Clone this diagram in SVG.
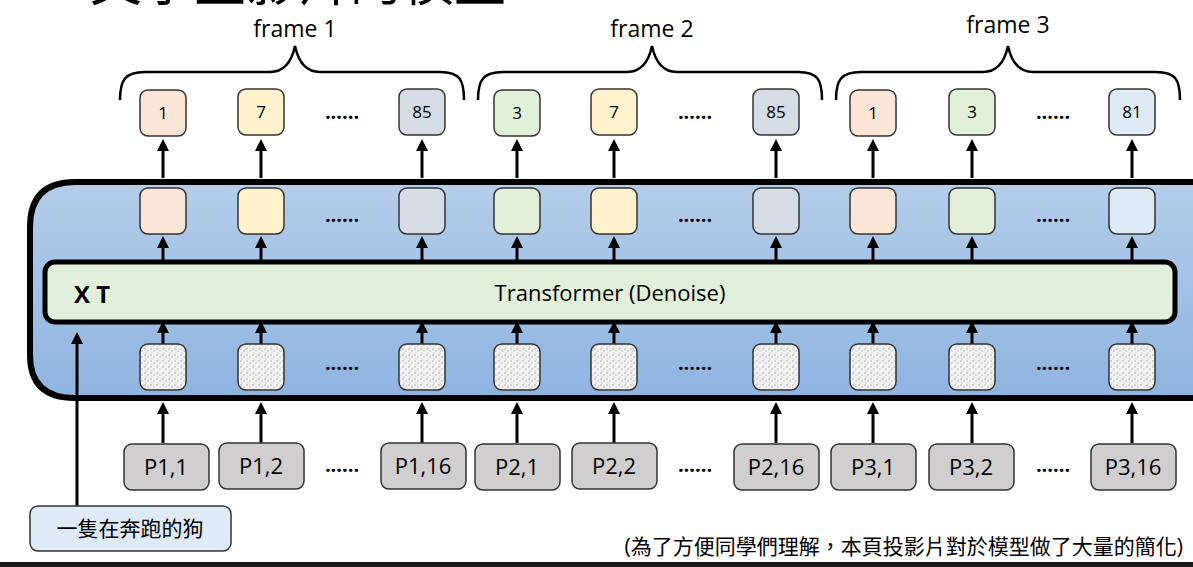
<svg xmlns="http://www.w3.org/2000/svg" width="1193" height="567" viewBox="0 0 1193 567">
<defs>
<linearGradient id="bg" x1="0" y1="0" x2="0" y2="1"><stop offset="0" stop-color="#b4cdea"/><stop offset="1" stop-color="#8fb4e0"/></linearGradient>
<pattern id="noise" width="6" height="6" patternUnits="userSpaceOnUse"><rect width="6" height="6" fill="#f2f2f2"/><circle cx="1" cy="1" r="0.7" fill="#999"/><circle cx="4" cy="3" r="0.7" fill="#aaa"/><circle cx="2" cy="5" r="0.6" fill="#bbb"/></pattern>
<marker id="ah" markerWidth="4" markerHeight="4" refX="2" refY="2" orient="auto" markerUnits="strokeWidth"><path d="M0,0 L4,2 L0,4 z" fill="#000"/></marker>
</defs>
<style>
text{font-family:"Open Sans","Noto Sans","Noto Sans CJK TC",sans-serif;fill:#000}
.b{stroke:#333;stroke-width:1.5}
.t{font-size:17px;text-anchor:middle}
.p{font-size:22px;text-anchor:middle}
.d{font-size:20px;font-weight:bold;text-anchor:middle}
.a{stroke:#000;stroke-width:3;fill:none;marker-end:url(#ah)}
.br{stroke:#000;stroke-width:2.5;fill:none}
</style>
<text x="90" y="1" font-size="52" font-family="Noto Sans CJK TC,sans-serif">文字生影片的模型</text>
<text x="295" y="37" font-size="23" text-anchor="middle">frame 1</text>
<text x="652" y="37" font-size="23" text-anchor="middle">frame 2</text>
<text x="1008" y="33" font-size="23" text-anchor="middle">frame 3</text>
<path class="br" d="M120,100 C120,80 125,72 145,72 L270,72 C285,72 292,60 295,46 C298,60 305,72 320,72 L440,72 C460,72 464,80 464,100"/>
<path class="br" d="M478,100 C478,80 483,72 503,72 L627,72 C642,72 649,60 652,46 C655,60 662,72 677,72 L798,72 C818,72 822,80 822,100"/>
<path class="br" d="M836,100 C836,80 841,72 861,72 L983,72 C998,72 1005,60 1008,46 C1011,60 1018,72 1033,72 L1156,72 C1176,72 1180,80 1180,100"/>
<path d="M1196,182 L75,182 Q30,182 30,227 L30,355 Q30,398 75,398 L1196,398" fill="url(#bg)" stroke="#000" stroke-width="6"/>
<g id="connectors">
<path class="a" d="M77,506 L77,338"/>
<g><path class="a" d="M163,178 L163,145"/><path class="a" d="M163,262 L163,242"/><path class="a" d="M163,344 L163,327"/><path class="a" d="M163,443 L163,408"/></g>
<g><path class="a" d="M261,178 L261,145"/><path class="a" d="M261,262 L261,242"/><path class="a" d="M261,344 L261,327"/><path class="a" d="M261,443 L261,408"/></g>
<g><path class="a" d="M422,178 L422,145"/><path class="a" d="M422,262 L422,242"/><path class="a" d="M422,344 L422,327"/><path class="a" d="M422,443 L422,408"/></g>
<g><path class="a" d="M517,178 L517,145"/><path class="a" d="M517,262 L517,242"/><path class="a" d="M517,344 L517,327"/><path class="a" d="M517,443 L517,408"/></g>
<g><path class="a" d="M614,178 L614,145"/><path class="a" d="M614,262 L614,242"/><path class="a" d="M614,344 L614,327"/><path class="a" d="M614,443 L614,408"/></g>
<g><path class="a" d="M776,178 L776,145"/><path class="a" d="M776,262 L776,242"/><path class="a" d="M776,344 L776,327"/><path class="a" d="M776,443 L776,408"/></g>
<g><path class="a" d="M873,178 L873,145"/><path class="a" d="M873,262 L873,242"/><path class="a" d="M873,344 L873,327"/><path class="a" d="M873,443 L873,408"/></g>
<g><path class="a" d="M972,178 L972,145"/><path class="a" d="M972,262 L972,242"/><path class="a" d="M972,344 L972,327"/><path class="a" d="M972,443 L972,408"/></g>
<g><path class="a" d="M1132,178 L1132,145"/><path class="a" d="M1132,262 L1132,242"/><path class="a" d="M1132,344 L1132,327"/><path class="a" d="M1132,443 L1132,408"/></g>
</g>
<g id="outputs">
<rect class="b" x="140" y="90" width="46" height="46" rx="8" fill="#fbe5d6"/><text class="t" x="163" y="119">1</text>
<rect class="b" x="238" y="89" width="46" height="46" rx="8" fill="#fff2cc"/><text class="t" x="261" y="118">7</text>
<rect class="b" x="399" y="89" width="46" height="46" rx="8" fill="#d6dce5"/><text class="t" x="422" y="118">85</text>
<rect class="b" x="494" y="90" width="46" height="46" rx="8" fill="#e2f0d9"/><text class="t" x="517" y="119">3</text>
<rect class="b" x="591" y="89" width="46" height="46" rx="8" fill="#fff2cc"/><text class="t" x="614" y="118">7</text>
<rect class="b" x="753" y="89" width="46" height="46" rx="8" fill="#d6dce5"/><text class="t" x="776" y="118">85</text>
<rect class="b" x="850" y="90" width="46" height="46" rx="8" fill="#fbe5d6"/><text class="t" x="873" y="119">1</text>
<rect class="b" x="949" y="89" width="46" height="46" rx="8" fill="#e2f0d9"/><text class="t" x="972" y="118">3</text>
<rect class="b" x="1109" y="89" width="46" height="46" rx="8" fill="#deebf7"/><text class="t" x="1132" y="118">81</text>
<text class="d" x="342" y="119">......</text><text class="d" x="695" y="119">......</text><text class="d" x="1053" y="119">......</text>
</g>
<g id="latents">
<rect class="b" x="140" y="188" width="46" height="46" rx="8" fill="#fbe5d6"/>
<rect class="b" x="238" y="188" width="46" height="46" rx="8" fill="#fff2cc"/>
<rect class="b" x="399" y="188" width="46" height="46" rx="8" fill="#d6dce5"/>
<rect class="b" x="494" y="188" width="46" height="46" rx="8" fill="#e2f0d9"/>
<rect class="b" x="591" y="188" width="46" height="46" rx="8" fill="#fff2cc"/>
<rect class="b" x="753" y="188" width="46" height="46" rx="8" fill="#d6dce5"/>
<rect class="b" x="850" y="188" width="46" height="46" rx="8" fill="#fbe5d6"/>
<rect class="b" x="949" y="188" width="46" height="46" rx="8" fill="#e2f0d9"/>
<rect class="b" x="1109" y="188" width="46" height="46" rx="8" fill="#deebf7"/>
<text class="d" x="342" y="222">......</text><text class="d" x="695" y="222">......</text><text class="d" x="1053" y="222">......</text>
</g>
<g id="transformer">
<rect x="45" y="262" width="1130" height="60" rx="10" fill="#e2efda" stroke="#000" stroke-width="5"/>
<text x="74" y="303" font-size="24" font-weight="bold">X T</text>
<text x="610" y="301" font-size="22" text-anchor="middle">Transformer (Denoise)</text>
</g>
<g id="noises">
<rect class="b" x="140" y="344" width="46" height="46" rx="8" fill="url(#noise)"/>
<rect class="b" x="238" y="344" width="46" height="46" rx="8" fill="url(#noise)"/>
<rect class="b" x="399" y="344" width="46" height="46" rx="8" fill="url(#noise)"/>
<rect class="b" x="494" y="344" width="46" height="46" rx="8" fill="url(#noise)"/>
<rect class="b" x="591" y="344" width="46" height="46" rx="8" fill="url(#noise)"/>
<rect class="b" x="753" y="344" width="46" height="46" rx="8" fill="url(#noise)"/>
<rect class="b" x="850" y="344" width="46" height="46" rx="8" fill="url(#noise)"/>
<rect class="b" x="949" y="344" width="46" height="46" rx="8" fill="url(#noise)"/>
<rect class="b" x="1109" y="344" width="46" height="46" rx="8" fill="url(#noise)"/>
<text class="d" x="342" y="370">......</text><text class="d" x="695" y="370">......</text><text class="d" x="1053" y="370">......</text>
</g>
<g id="patches">
<rect class="b" x="124" y="444" width="85" height="46" rx="8" fill="#d0cece"/><text class="p" x="166" y="475">P1,1</text>
<rect class="b" x="219" y="443" width="85" height="46" rx="8" fill="#d0cece"/><text class="p" x="261" y="474">P1,2</text>
<rect class="b" x="381" y="443" width="85" height="46" rx="8" fill="#d0cece"/><text class="p" x="423" y="474">P1,16</text>
<rect class="b" x="475" y="444" width="85" height="46" rx="8" fill="#d0cece"/><text class="p" x="517" y="475">P2,1</text>
<rect class="b" x="572" y="443" width="85" height="46" rx="8" fill="#d0cece"/><text class="p" x="614" y="474">P2,2</text>
<rect class="b" x="734" y="444" width="85" height="46" rx="8" fill="#d0cece"/><text class="p" x="776" y="475">P2,16</text>
<rect class="b" x="831" y="444" width="85" height="46" rx="8" fill="#d0cece"/><text class="p" x="873" y="475">P3,1</text>
<rect class="b" x="929" y="444" width="85" height="46" rx="8" fill="#d0cece"/><text class="p" x="971" y="475">P3,2</text>
<rect class="b" x="1091" y="444" width="85" height="46" rx="8" fill="#d0cece"/><text class="p" x="1133" y="475">P3,16</text>
<text class="d" x="342" y="472">......</text><text class="d" x="695" y="472">......</text><text class="d" x="1053" y="472">......</text>
</g>
<g id="prompt">
<rect class="b" x="30" y="506" width="201" height="45" rx="8" fill="#deebf7"/>
<text x="130" y="536" font-size="21" text-anchor="middle">一隻在奔跑的狗</text>
</g>
<text x="1183" y="554" font-size="21" text-anchor="end">(為了方便同學們理解，本頁投影片對於模型做了大量的簡化)</text>
<rect x="0" y="562" width="1193" height="5" fill="#1a1a1a"/>
</svg>
